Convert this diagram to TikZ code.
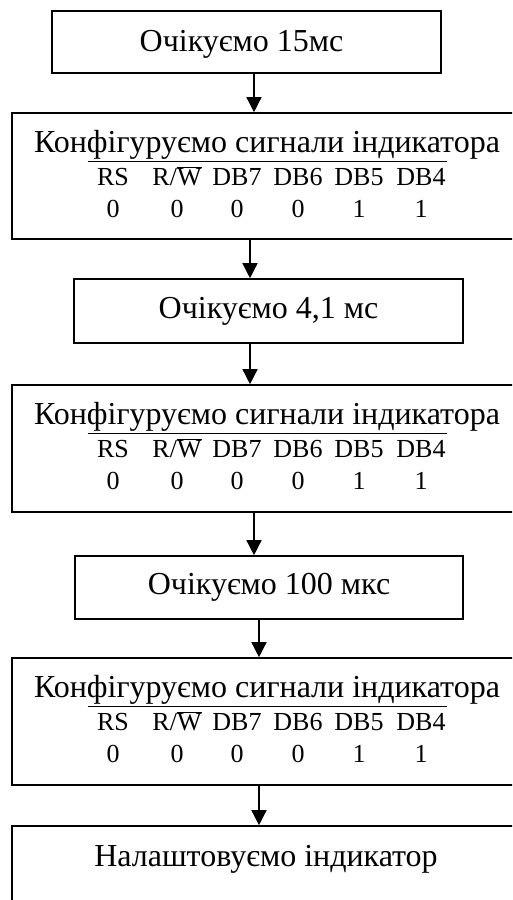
\documentclass[tikz,border=0pt]{standalone}
\usepackage{fontspec}
\setmainfont{Liberation Serif}
\usetikzlibrary{arrows.meta,calc}
\tikzset{
  box/.style={draw=black, line width=1.6pt, rectangle, inner sep=0pt, align=center},
  bigtxt/.style={inner sep=0pt, font=\fontsize{32}{38}\selectfont},
  sig/.style={inner sep=0pt, anchor=base, font=\fontsize{26}{30}\selectfont},
  arr/.style={line width=1.4pt, -{Triangle[width=15pt,length=15pt]}},
  rule/.style={line width=1pt}
}
\newcommand{\sigrow}[1]{%
  \foreach \dx/\lab/\val [count=\k] in {-154/RS/0, -90/{R/$\overline{\mbox{W}}$}/0, -30/DB7/0, 31/DB6/0, 92/DB5/1, 154/DB4/1}{
    \node[sig] (#1s\k) at ($(#1.north)+(\dx,73)$) {\lab};
    \node[sig] (#1v\k) at ($(#1.north)+(\dx,105)$) {\val};
  }%
}
\begin{document}
\begin{tikzpicture}[x=1pt,y=-1pt]
\useasboundingbox (0,0) rectangle (512,900);
\clip (0,0) rectangle (512,900);
\fill[white] (0,0) rectangle (512,900);

% box 1
\node[box, minimum width=389, minimum height=62] (b1) at (246.5,42) {};
\node[bigtxt, anchor=base] (t1) at ($(b1.north)+(-5,41)$) {Очікуємо 15мс};

% box 2
\node[box, minimum width=510, minimum height=126] (b2) at (267,176) {};
\node[bigtxt, anchor=base] (t2) at ($(b2.north)+(0,40)$) {Конфігуруємо сигнали індикатора};
\draw[rule] ($(b2.north)+(-179.5,49)$) -- ($(b2.north)+(179.5,49)$);
\sigrow{b2}

% box 3
\node[box, bigtxt, minimum width=389, minimum height=64] (b3) at (268.5,311) {Очікуємо 4,1 мс};

% box 4
\node[box, minimum width=510, minimum height=127] (b4) at (267,448.5) {};
\node[bigtxt, anchor=base] (t4) at ($(b4.north)+(0,40)$) {Конфігуруємо сигнали індикатора};
\draw[rule] ($(b4.north)+(-179.5,49)$) -- ($(b4.north)+(179.5,49)$);
\sigrow{b4}

% box 5
\node[box, bigtxt, minimum width=388, minimum height=63] (b5) at (269,587.5) {Очікуємо 100 мкс};

% box 6
\node[box, minimum width=510, minimum height=127] (b6) at (267,721.5) {};
\node[bigtxt, anchor=base] (t6) at ($(b6.north)+(0,40)$) {Конфігуруємо сигнали індикатора};
\draw[rule] ($(b6.north)+(-179.5,49)$) -- ($(b6.north)+(179.5,49)$);
\sigrow{b6}

% box 7
\node[box, minimum width=510, minimum height=140] (b7) at (267,896) {};
\node[bigtxt, anchor=base] (t7) at ($(b7.north)+(-1,41)$) {Налаштовуємо індикатор};

% arrows
\coordinate (a1) at (254,0);
\coordinate (a2) at (250,0);
\coordinate (a3) at (250,0);
\coordinate (a4) at (254,0);
\coordinate (a5) at (259,0);
\draw[arr] (b1.south -| a1) -- (b2.north -| a1);
\draw[arr] (b2.south -| a2) -- (b3.north -| a2);
\draw[arr] (b3.south -| a3) -- (b4.north -| a3);
\draw[arr] (b4.south -| a4) -- (b5.north -| a4);
\draw[arr] (b5.south -| a5) -- (b6.north -| a5);
\draw[arr] (b6.south -| a5) -- (b7.north -| a5);
\end{tikzpicture}
\end{document}
